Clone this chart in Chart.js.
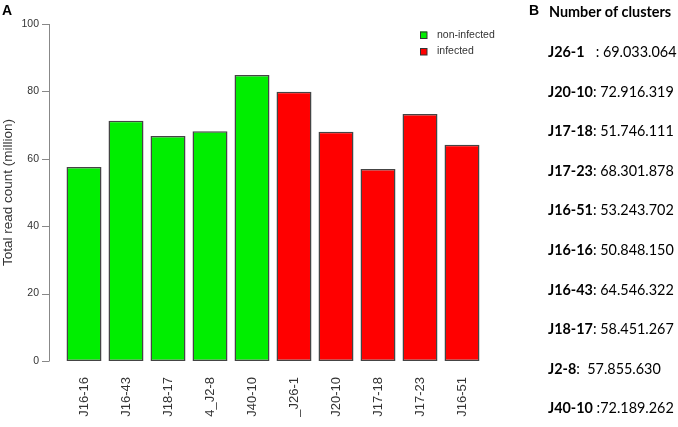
<!DOCTYPE html>
<html>
<head>
<meta charset="utf-8">
<script src="https://cdn.jsdelivr.net/npm/chart.js@4"></script>
<style>
  html, body { margin: 0; padding: 0; background: #fff; }
  #wrap { position: relative; width: 678px; height: 427px; }
</style>
</head>
<body>
<div id="wrap"><canvas id="chart" width="678" height="427"></canvas></div>
<script>
// sample names as printed under the bars (long names are cut off in the figure)
const samples = ["J16-16", "J16-43", "J18-17", "4_J2-8", "J40-10", "_J26-1", "J20-10", "J17-18", "J17-23", "J16-51"];
// total read count in million
const readCounts = [57.6, 71.3, 66.8, 68.2, 84.9, 79.9, 68.0, 57.0, 73.3, 64.2];
const groups = ["non-infected", "non-infected", "non-infected", "non-infected", "non-infected",
                "infected", "infected", "infected", "infected", "infected"];
const yTicks = [0, 20, 40, 60, 80, 100];

// panel B
const clusterSamples = ["J26-1", "J20-10", "J17-18", "J17-23", "J16-51", "J16-16", "J16-43", "J18-17", "J2-8", "J40-10"];
const clusterSeps = ["   : ", ": ", ": ", ": ", ": ", ": ", ": ", ": ", ":  ", " :"];
const clusterCounts = ["69.033.064", "72.916.319", "51.746.111", "68.301.878", "53.243.702",
                       "50.848.150", "64.546.322", "58.451.267", "57.855.630", "72.189.262"];

const groupColors = { "non-infected": "#00ee00", "infected": "#ff0000" };

// R-style y axis, legend and panel B text
const extras = {
  id: "extras",
  afterDraw(chart) {
    const ctx = chart.ctx;
    const y = chart.scales.y;
    const axisX = 49;
    ctx.save();
    ctx.strokeStyle = "#888";
    ctx.lineWidth = 1;
    ctx.beginPath();
    ctx.moveTo(axisX + 0.5, y.getPixelForValue(0));
    ctx.lineTo(axisX + 0.5, y.getPixelForValue(100));
    yTicks.forEach(t => {
      const py = Math.round(y.getPixelForValue(t)) + 0.5;
      ctx.moveTo(axisX - 7, py);
      ctx.lineTo(axisX + 0.5, py);
    });
    ctx.stroke();

    // legend
    const legend = ["non-infected", "infected"];
    ctx.font = "10.5px 'Liberation Sans', Arial, sans-serif";
    ctx.textBaseline = "middle";
    legend.forEach((g, i) => {
      const ly = 35 + i * 16.5;
      ctx.fillStyle = groupColors[g];
      ctx.fillRect(420, ly - 3.5, 7, 7);
      ctx.strokeStyle = "#333";
      ctx.strokeRect(420.5, ly - 3, 6.5, 6.5);
      ctx.fillStyle = "#333";
      ctx.fillText(g, 437, ly);
    });

    // panel labels
    ctx.fillStyle = "#000";
    ctx.font = "bold 14px 'Liberation Sans', Arial, sans-serif";
    ctx.textBaseline = "alphabetic";
    ctx.fillText("A", 2, 15);
    ctx.fillText("B", 529, 15);

    ctx.font = "bold 14.4px Lato, sans-serif";
    ctx.fillText("Number of clusters", 549, 17);
    clusterSamples.forEach((s, i) => {
      const ty = 57 + i * 39.6;
      ctx.font = "bold 14.4px Lato, sans-serif";
      ctx.fillText(s, 548, ty);
      const w = ctx.measureText(s).width;
      ctx.font = "14.4px Lato, sans-serif";
      ctx.fillText(clusterSeps[i] + clusterCounts[i], 548 + w, ty);
    });
    ctx.restore();
  }
};

new Chart(document.getElementById("chart"), {
  type: "bar",
  data: {
    labels: samples,
    datasets: [{
      data: readCounts,
      backgroundColor: groups.map(g => groupColors[g]),
      borderColor: "#444",
      borderWidth: 1.5,
      borderSkipped: false,
      inflateAmount: 0,
      categoryPercentage: 1,
      barPercentage: 0.833
    }]
  },
  options: {
    responsive: false,
    animation: false,
    layout: { padding: { top: 24, right: 195, bottom: 0, left: 0 } },
    plugins: { legend: { display: false }, tooltip: { enabled: false } },
    scales: {
      x: {
        grid: { display: false, drawTicks: false },
        border: { display: false },
        ticks: {
          color: "#333",
          font: { family: "'Liberation Sans', Arial, sans-serif", size: 13 },
          maxRotation: 90, minRotation: 90, padding: 16, autoSkip: false
        },
        afterFit: s => { s.height = 66; s.paddingTop = 0; s.paddingBottom = 0; }
      },
      y: {
        min: 0, max: 100,
        grid: { display: false, drawTicks: false },
        border: { display: false },
        afterBuildTicks: s => { s.ticks = yTicks.map(v => ({ value: v })); },
        ticks: {
          color: "#333",
          font: { family: "'Liberation Sans', Arial, sans-serif", size: 10.5 },
          padding: 24
        },
        title: {
          display: true,
          text: "Total read count (million)",
          color: "#333",
          font: { family: "'Liberation Sans', Arial, sans-serif", size: 13.5 },
          padding: { top: 0, bottom: 0 }
        },
        afterFit: s => { s.width = 63; s.paddingTop = 0; s.paddingBottom = 0; }
      }
    }
  },
  plugins: [extras]
});
</script>
</body>
</html>
